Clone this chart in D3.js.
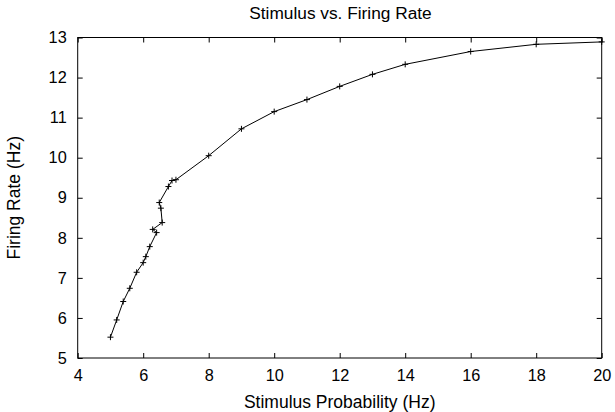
<!DOCTYPE html>
<html>
<head>
<meta charset="utf-8">
<script src="https://cdn.jsdelivr.net/npm/d3@7"></script>
<style>
  body { margin: 0; background: #fff; }
  svg text { font-family: "Liberation Sans", Arial, sans-serif; fill: #000; }
</style>
</head>
<body>
<div id="chart"></div>
<script>
const WIDTH = 615;
const HEIGHT = 412;
const MARGIN = {top: 37.5, right: 13.3, bottom: 54, left: 77.7};

// stimulus probability (Hz) and measured firing rate (Hz)
const stimulus = [5.0, 5.19, 5.39, 5.59, 5.8, 6.0, 6.08, 6.2, 6.41, 6.29, 6.58, 6.54, 6.49,
    6.77, 6.88, 7.0, 8, 9, 10, 11, 12, 13, 14, 16, 18, 20];
const firingRate = [5.52, 5.95, 6.41, 6.74, 7.14, 7.38, 7.53, 7.78, 8.13, 8.21, 8.38, 8.74, 8.88,
    9.28, 9.43, 9.45, 10.05, 10.72, 11.15, 11.45, 11.78, 12.08, 12.33, 12.65, 12.83, 12.89];

const xTicks = [4, 6, 8, 10, 12, 14, 16, 18, 20];
const yTicks = [5, 6, 7, 8, 9, 10, 11, 12, 13];

const TICK = 5;

const points = stimulus.map((x, i) => ({x, y: firingRate[i]}));

const svg = d3.select("#chart")
    .append("svg")
    .attr("width", WIDTH)
    .attr("height", HEIGHT);

const xScale = d3.scaleLinear()
    .domain([4, 20])
    .range([MARGIN.left, WIDTH - MARGIN.right]);

const yScale = d3.scaleLinear()
    .domain([5, 13])
    .range([HEIGHT - MARGIN.bottom, MARGIN.top]);

const x0 = xScale.range()[0], x1 = xScale.range()[1];
const y0 = yScale.range()[0], y1 = yScale.range()[1];

// bottom axis with inward ticks
svg.append("g")
    .attr("transform", "translate(0," + y0 + ")")
    .call(d3.axisBottom(xScale).tickValues(xTicks).tickSize(-TICK).tickPadding(11).tickFormat(d3.format("d")));

// left axis with inward ticks
svg.append("g")
    .attr("transform", "translate(" + x0 + ",0)")
    .call(d3.axisLeft(yScale).tickValues(yTicks).tickSize(-TICK).tickPadding(11).tickFormat(d3.format("d")));

// mirrored ticks on top and right, no labels
svg.append("g")
    .attr("transform", "translate(0," + y1 + ")")
    .call(d3.axisTop(xScale).tickValues(xTicks).tickSize(-TICK).tickFormat(""));
svg.append("g")
    .attr("transform", "translate(" + x1 + ",0)")
    .call(d3.axisRight(yScale).tickValues(yTicks).tickSize(-TICK).tickFormat(""));

svg.selectAll(".domain").remove();
svg.selectAll(".tick line").attr("stroke", "#000");
svg.selectAll(".tick text")
    .style("font-size", "16.3px")
    .attr("fill", "#000");

// frame
svg.append("rect")
    .attr("x", x0)
    .attr("y", y1)
    .attr("width", x1 - x0)
    .attr("height", y0 - y1)
    .attr("fill", "none")
    .attr("stroke", "#000")
    .attr("stroke-width", 1);

const line = d3.line()
    .x(d => xScale(d.x))
    .y(d => yScale(d.y));

svg.append("path")
    .datum(points)
    .attr("d", line)
    .attr("fill", "none")
    .attr("stroke", "#000")
    .attr("stroke-width", 1);

// "+" markers
const M = 3;
svg.append("g")
    .selectAll("path.mark")
    .data(points)
    .enter()
    .append("path")
    .attr("class", "mark")
    .attr("d", d => {
        const cx = xScale(d.x), cy = yScale(d.y);
        return "M" + (cx - M) + "," + cy + "H" + (cx + M) + "M" + cx + "," + (cy - M) + "V" + (cy + M);
    })
    .attr("stroke", "#000")
    .attr("stroke-width", 1);

// title and axis labels
svg.append("text")
    .attr("x", 340.5)
    .attr("y", 19)
    .attr("text-anchor", "middle")
    .style("font-size", "17.3px")
    .text("Stimulus vs. Firing Rate");

svg.append("text")
    .attr("x", (x0 + x1) / 2)
    .attr("y", 408)
    .attr("text-anchor", "middle")
    .style("font-size", "17.5px")
    .text("Stimulus Probability (Hz)");

svg.append("text")
    .attr("transform", "translate(20," + (y0 + y1) / 2 + ") rotate(-90)")
    .attr("text-anchor", "middle")
    .style("font-size", "17.5px")
    .text("Firing Rate (Hz)");
</script>
</body>
</html>
